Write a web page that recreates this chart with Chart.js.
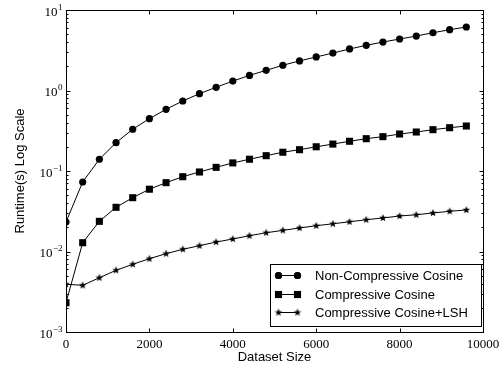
<!DOCTYPE html>
<html>
<head>
<meta charset="utf-8">
<script src="https://cdn.jsdelivr.net/npm/chart.js@4.4.0/dist/chart.umd.min.js"></script>
<style>
  html, body { margin: 0; padding: 0; background: #fff; }
</style>
</head>
<body>
<canvas id="runtimeChart" width="502" height="372"></canvas>
<script>
// dataset sizes on the x axis
const datasetSizes = [0, 400, 800, 1200, 1600, 2000, 2400, 2800, 3200, 3600, 4000, 4400, 4800,
  5200, 5600, 6000, 6400, 6800, 7200, 7600, 8000, 8400, 8800, 9200, 9600];

// runtimes in seconds
const nonCompressive = [0.0232, 0.073, 0.14, 0.225, 0.33, 0.447, 0.584, 0.741, 0.912, 1.096, 1.31, 1.54, 1.78,
  2.06, 2.33, 2.61, 2.92, 3.28, 3.64, 4.0, 4.36, 4.75, 5.22, 5.69, 6.15];
const compressive = [0.00231, 0.01286, 0.0237, 0.0354, 0.0466, 0.0594, 0.0716, 0.0849, 0.0972, 0.111, 0.126, 0.140, 0.155,
  0.171, 0.184, 0.200, 0.216, 0.234, 0.252, 0.267, 0.288, 0.305, 0.326, 0.345, 0.362];
const compressiveLsh = [0.00392, 0.0038, 0.00472, 0.00584, 0.00693, 0.00814, 0.0094, 0.01065, 0.0118, 0.0131, 0.0143, 0.0157, 0.0171,
  0.0183, 0.0196, 0.0209, 0.0221, 0.0234, 0.0248, 0.0261, 0.0276, 0.0286, 0.0301, 0.0316, 0.0328];

const seriesLabels = ['Non-Compressive Cosine', 'Compressive Cosine', 'Compressive Cosine+LSH'];

const xTickValues = [0, 2000, 4000, 6000, 8000, 10000];
const yTickExponents = [-3, -2, -1, 0, 1];

const serifFont = '"Liberation Serif", "DejaVu Serif", serif';
const sansFont = '"Liberation Sans", Arial, sans-serif';

// filled five-point star used as a marker
function makeStar(r) {
  const size = Math.ceil(r * 2) + 2;
  const c = document.createElement('canvas');
  c.width = size;
  c.height = size;
  const g = c.getContext('2d');
  g.translate(size / 2, size / 2);
  g.beginPath();
  for (let i = 0; i < 10; i++) {
    const rad = i % 2 === 0 ? r : r * 0.42;
    const a = -Math.PI / 2 + i * Math.PI / 5;
    g.lineTo(rad * Math.cos(a), rad * Math.sin(a));
  }
  g.closePath();
  g.fillStyle = '#000';
  g.fill();
  return c;
}
const starMarker = makeStar(4);

function toPoints(values) {
  return datasetSizes.map((x, i) => ({ x: x, y: values[i] }));
}

function series(label, values, pointStyle, radius) {
  return {
    label: label,
    data: toPoints(values),
    borderColor: '#000',
    backgroundColor: '#000',
    borderWidth: 1,
    pointStyle: pointStyle,
    pointRadius: radius,
    pointHoverRadius: radius,
    pointBorderWidth: 0,
    tension: 0
  };
}

const minusSign = '\u2212';

// frame, inward ticks and y tick labels, drawn the matplotlib way
const axesFrame = {
  id: 'axesFrame',
  afterDatasetsDraw(chart) {
    const ctx = chart.ctx;
    const area = chart.chartArea;
    const xs = chart.scales.x;
    const ys = chart.scales.y;
    const L = Math.round(area.left) + 0.5, R = Math.round(area.right) + 0.5;
    const T = Math.round(area.top) + 0.5, B = Math.round(area.bottom) + 0.5;
    ctx.save();
    ctx.strokeStyle = '#000';
    ctx.lineWidth = 1;
    ctx.strokeRect(L, T, R - L, B - T);

    ctx.beginPath();
    xTickValues.forEach(v => {
      const px = Math.round(xs.getPixelForValue(v)) + 0.5;
      ctx.moveTo(px, B); ctx.lineTo(px, B - 4);
      ctx.moveTo(px, T); ctx.lineTo(px, T + 4);
    });
    yTickExponents.forEach(e => {
      const py = Math.round(ys.getPixelForValue(Math.pow(10, e))) + 0.5;
      ctx.moveTo(L, py); ctx.lineTo(L + 4, py);
      ctx.moveTo(R, py); ctx.lineTo(R - 4, py);
      if (e < yTickExponents[yTickExponents.length - 1]) {
        for (let m = 2; m <= 9; m++) {
          const pm = Math.round(ys.getPixelForValue(m * Math.pow(10, e))) + 0.5;
          ctx.moveTo(L, pm); ctx.lineTo(L + 2, pm);
          ctx.moveTo(R, pm); ctx.lineTo(R - 2, pm);
        }
      }
    });
    ctx.stroke();

    // y tick labels: 10 with a raised exponent
    ctx.fillStyle = '#000';
    ctx.textBaseline = 'alphabetic';
    ctx.textAlign = 'left';
    yTickExponents.forEach(e => {
      const py = ys.getPixelForValue(Math.pow(10, e));
      const exp = String(e).replace('-', minusSign);
      ctx.font = '13px ' + serifFont;
      const baseW = ctx.measureText('10').width;
      ctx.font = '9px ' + serifFont;
      const expW = ctx.measureText(exp).width;
      const x0 = area.left - 4 - baseW - expW;
      ctx.font = '13px ' + serifFont;
      ctx.fillText('10', x0, py + 5.5);
      ctx.font = '9px ' + serifFont;
      ctx.fillText(exp, x0 + baseW + 0.5, py - 0.5);
    });
    ctx.restore();
  }
};

// legend box in the lower right of the plot
const boxLegend = {
  id: 'boxLegend',
  afterDraw(chart) {
    const ctx = chart.ctx;
    const area = chart.chartArea;
    const boxW = 211, boxH = 62;
    const bx = Math.round(area.right - 2 - boxW) + 0.5;
    const by = Math.round(area.bottom - 6 - boxH) + 0.5;
    ctx.save();
    ctx.fillStyle = '#fff';
    ctx.fillRect(bx, by, boxW, boxH);
    ctx.strokeStyle = '#000';
    ctx.lineWidth = 1;
    ctx.strokeRect(bx, by, boxW, boxH);
    ctx.font = '13px ' + sansFont;
    ctx.textBaseline = 'middle';
    ctx.textAlign = 'left';
    ctx.fillStyle = '#000';
    chart.data.datasets.forEach((ds, i) => {
      const y = Math.round(by + 10.5 + i * 18.7);
      const x1 = bx + 8, x2 = bx + 27;
      ctx.beginPath();
      ctx.moveTo(x1, y + 0.5);
      ctx.lineTo(x2, y + 0.5);
      ctx.stroke();
      [x1, x2].forEach(x => {
        Chart.helpers.drawPoint(ctx, {
          pointStyle: ds.pointStyle,
          radius: ds.pointRadius,
          borderWidth: 0,
          rotation: 0
        }, x, y + 0.5);
        if (ds.pointStyle !== starMarker) ctx.fill();
      });
      ctx.fillText(ds.label, bx + 44.5, y + 1);
    });
    ctx.restore();
  }
};

const chart = new Chart(document.getElementById('runtimeChart').getContext('2d'), {
  type: 'line',
  data: {
    datasets: [
      series(seriesLabels[0], nonCompressive, 'circle', 3.6),
      series(seriesLabels[1], compressive, 'rect', 5),
      series(seriesLabels[2], compressiveLsh, starMarker, 4)
    ]
  },
  options: {
    responsive: false,
    animation: false,
    devicePixelRatio: 1,
    layout: { padding: { left: 0, right: 19, top: 10, bottom: 0 } },
    plugins: {
      legend: { display: false },
      tooltip: { enabled: false }
    },
    scales: {
      x: {
        type: 'linear',
        min: 0,
        max: 10000,
        afterFit(scale) { scale.height = 40; },
        afterBuildTicks(scale) { scale.ticks = xTickValues.map(v => ({ value: v })); },
        ticks: {
          color: '#000',
          padding: -3,
          maxRotation: 0,
          autoSkip: false,
          font: { family: serifFont, size: 13 },
          callback: v => String(v)
        },
        grid: { display: false },
        border: { display: false },
        title: {
          display: true,
          text: 'Dataset Size',
          color: '#000',
          font: { family: sansFont, size: 13 },
          padding: { top: 0, bottom: 7 }
        }
      },
      y: {
        type: 'logarithmic',
        min: 0.001,
        max: 10,
        afterFit(scale) { scale.width = 66; },
        ticks: { display: false },
        grid: { display: false },
        border: { display: false },
        title: {
          display: true,
          text: 'Runtime(s) Log Scale',
          color: '#000',
          font: { family: sansFont, size: 13 },
          padding: { top: 13, bottom: 0 }
        }
      }
    }
  },
  plugins: [axesFrame, boxLegend]
});
</script>
</body>
</html>
